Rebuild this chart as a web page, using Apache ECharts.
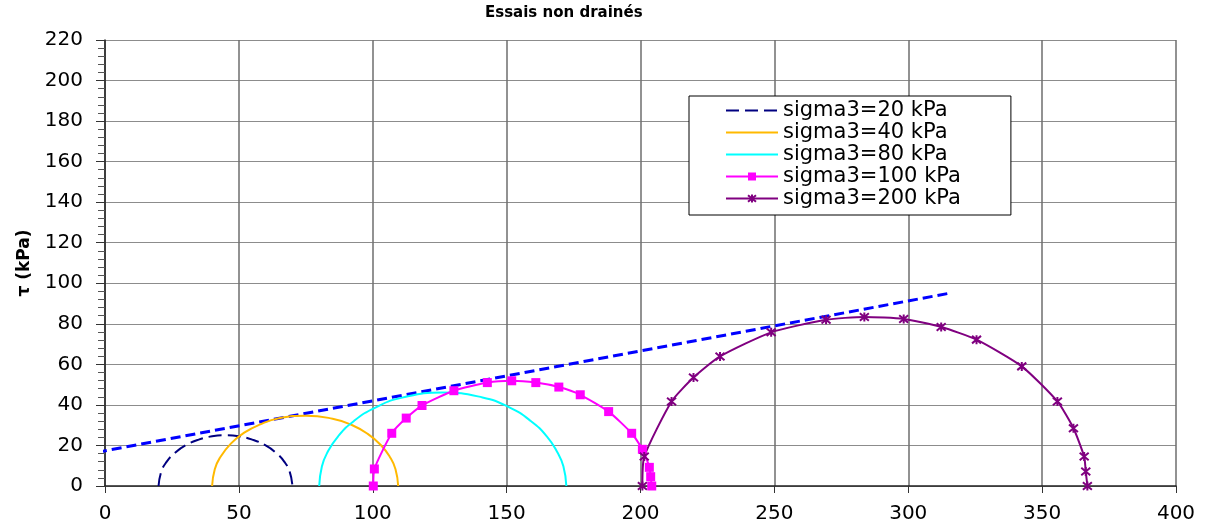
<!DOCTYPE html>
<html lang="fr">
<head>
    <meta charset="UTF-8">
    <title>Essais non drainés</title>
    <style>
        html, body { margin: 0; padding: 0; background: #fff; }
    </style>
</head>
<body>
<div id="chart1" style="width:1206px; height:529px;"></div>
<script type="text/javascript" src="https://cdn.jsdelivr.net/npm/echarts@6/dist/echarts.min.js"></script>
<script type="text/javascript">
    // valeurs (sigma, tau) en kPa
    var xTicks = [0, 50, 100, 150, 200, 250, 300, 350, 400];
    var yTicks = [0, 20, 40, 60, 80, 100, 120, 140, 160, 180, 200, 220];

    var noms = ['sigma3=20 kPa', 'sigma3=40 kPa', 'sigma3=80 kPa', 'sigma3=100 kPa', 'sigma3=200 kPa'];

    var cercle20 = [[20, 0], [21, 7], [23, 11.9], [26, 16.2], [30, 20], [35, 22.9], [40, 24.5], [45, 25],
        [50, 24.5], [55, 22.9], [60, 20], [64, 16.2], [67, 11.9], [69, 7], [70, 0]];
    var cercle40 = [[40, 0], [41, 8.3], [43, 14.1], [47, 20.9], [52, 26.3], [58, 30.4], [65, 33.4], [75, 34.7],
        [85, 33.2], [92, 30.2], [98, 25.8], [103, 20.2], [106.5, 14.1], [108.5, 8.3], [109.5, 0]];
    var cercle80 = [[80, 0], [81, 9.6], [83, 16.4], [87, 24.4], [93, 32.1], [101, 38.7], [111, 43.6], [126, 46.1],
        [141, 43.7], [151, 38.8], [159, 32.1], [165, 24.5], [169, 16.5], [171.2, 9.7], [172.3, 0]];
    var cercle100 = [[100.2, 0], [100.6, 8.4], [107.1, 26], [112.5, 33.5], [118.4, 39.7], [130.3, 47], [142.8, 51],
        [151.9, 51.9], [160.9, 51], [169.5, 48.8], [177.5, 45], [188.1, 36.7], [196.7, 26], [200.7, 18.1],
        [203.3, 9.2], [203.8, 4.6], [204.2, 0]];
    var cercle200 = [[200.7, 0], [201.4, 14.5], [211.6, 41.7], [219.8, 53.5], [229.7, 63.9], [248.8, 75.8],
        [269.3, 82], [283.6, 83.4], [298.3, 82.4], [312.3, 78.4], [325.5, 72.2], [342.4, 59], [355.7, 41.7],
        [361.7, 28.5], [365.7, 14.5], [366.3, 7.1], [366.9, 0]];
    // droite enveloppe (c, phi)
    var enveloppe = [[-3, 16.6], [315, 95]];

    var police = 'DejaVu Sans';
    var etoile = 'path://M0,0L10,10M10,0L0,10M5,-1L5,11';

    // pas de marqueur dans la légende pour les cercles sans points
    var legendeData = [
        { name: noms[0], itemStyle: { opacity: 0 } },
        { name: noms[1], itemStyle: { opacity: 0 } },
        { name: noms[2], itemStyle: { opacity: 0 } },
        { name: noms[3] },
        { name: noms[4] }
    ];

    var option = {
        animation: false,
        backgroundColor: '#fff',
        title: {
            text: 'Essais non drainés',
            left: 485,
            top: 6,
            padding: 0,
            textStyle: { fontFamily: police, fontSize: 15, fontWeight: 'bold', color: '#000' }
        },
        legend: {
            data: legendeData,
            orient: 'vertical',
            left: 689,
            top: 96,
            padding: [4, 50, 6, 36],
            itemWidth: 52,
            itemHeight: 10,
            itemGap: 1,
            backgroundColor: '#fff',
            borderColor: '#000',
            borderWidth: 1,
            borderRadius: 0,
            textStyle: { fontFamily: police, fontSize: 21, color: '#000' }
        },
        grid: { left: 105, right: 30, top: 40, bottom: 43 },
        xAxis: {
            type: 'value',
            min: xTicks[0],
            max: xTicks[xTicks.length - 1],
            interval: 50,
            axisLine: { lineStyle: { color: '#222', width: 1.5 } },
            axisTick: { show: true, length: 7, lineStyle: { color: '#333' } },
            axisLabel: { fontFamily: police, fontSize: 20, color: '#000', margin: 18 },
            splitLine: { show: true, lineStyle: { color: '#6e6e6e', width: 1.5 } }
        },
        yAxis: {
            type: 'value',
            min: yTicks[0],
            max: yTicks[yTicks.length - 1],
            interval: 20,
            name: 'τ (kPa)',
            nameLocation: 'middle',
            nameGap: 72,
            nameTextStyle: { fontFamily: police, fontSize: 17, fontWeight: 'bold', color: '#000' },
            axisLine: { show: true, lineStyle: { color: '#222', width: 1.5 } },
            axisTick: { show: true, length: 9, lineStyle: { color: '#333' } },
            minorTick: { show: true, splitNumber: 5, length: 7, lineStyle: { color: '#555' } },
            axisLabel: { fontFamily: police, fontSize: 20, color: '#000', margin: 22 },
            splitLine: { show: true, lineStyle: { color: '#8c8c8c', width: 1 } }
        },
        series: [
            {
                name: 'enveloppe',
                type: 'line',
                data: enveloppe,
                symbol: 'none',
                clip: false,
                lineStyle: { color: '#0000ff', width: 3, type: [10, 5] },
                z: 3
            },
            {
                name: noms[0],
                type: 'line',
                data: cercle20,
                smooth: true,
                symbol: 'none',
                itemStyle: { color: '#000080' },
                lineStyle: { color: '#000080', width: 2, type: [13, 6] }
            },
            {
                name: noms[1],
                type: 'line',
                data: cercle40,
                smooth: true,
                symbol: 'none',
                itemStyle: { color: '#ffb900' },
                lineStyle: { color: '#ffb900', width: 2 }
            },
            {
                name: noms[2],
                type: 'line',
                data: cercle80,
                smooth: true,
                symbol: 'none',
                itemStyle: { color: '#00ffff' },
                lineStyle: { color: '#00ffff', width: 2 }
            },
            {
                name: noms[3],
                type: 'line',
                data: cercle100,
                smooth: 0.2,
                symbol: 'rect',
                symbolSize: 9,
                showSymbol: true,
                itemStyle: { color: '#ff00ff' },
                lineStyle: { color: '#ff00ff', width: 2 }
            },
            {
                name: noms[4],
                type: 'line',
                data: cercle200,
                smooth: 0.2,
                symbol: etoile,
                symbolSize: 9,
                showSymbol: true,
                itemStyle: { color: '#800080', borderColor: '#800080', borderWidth: 2 },
                lineStyle: { color: '#800080', width: 2 }
            }
        ]
    };

    var myChart = echarts.init(document.getElementById('chart1'));
    myChart.setOption(option);
</script>
</body>
</html>
